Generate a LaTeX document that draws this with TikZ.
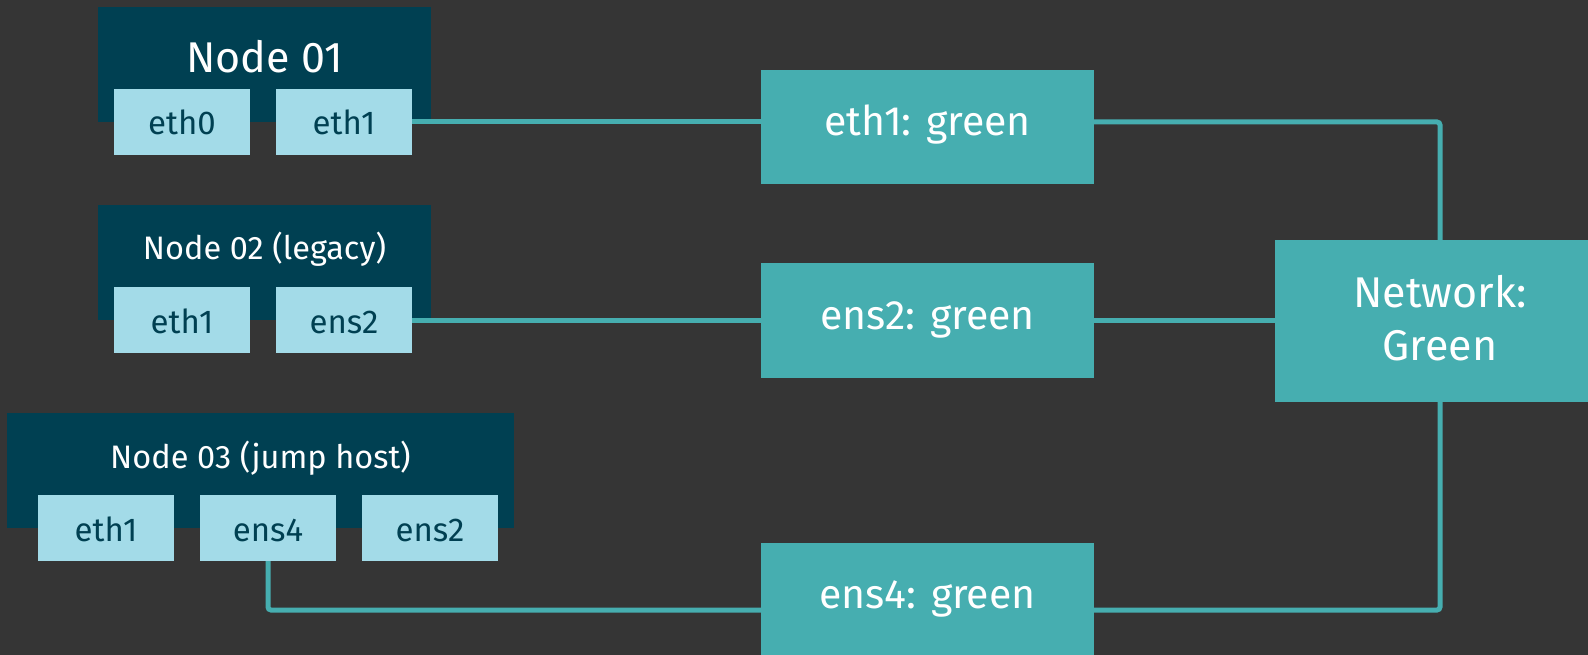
\documentclass[tikz,border=0pt]{standalone}
\usepackage{fontspec}
\setmainfont{Fira Sans}
\definecolor{bgc}{HTML}{353535}
\definecolor{hostc}{HTML}{004052}
\definecolor{portc}{HTML}{A3DBE8}
\definecolor{tealc}{HTML}{46AEB0}
\tikzset{
  hostbox/.style={fill=hostc, draw=none, inner sep=0pt, minimum width=333pt, minimum height=115pt},
  hostbig/.style={text=white, font=\fontsize{43}{50}\selectfont, anchor=base},
  hostsmall/.style={text=white, font=\fontsize{32.5}{38}\selectfont, anchor=base},
  portbox/.style={fill=portc, draw=none, inner sep=0pt, minimum width=136pt, minimum height=66pt,
    text=hostc, font=\fontsize{33}{38}\selectfont, text height=26pt, text depth=0pt},
  vlanbox/.style={fill=tealc, draw=none, inner sep=0pt, minimum width=333pt, minimum height=114pt,
    text=white, font=\fontsize{41}{46}\selectfont, text height=18pt, text depth=0pt},
  link/.style={draw=tealc, line width=5pt, rounded corners=3pt}
}
\begin{document}
\begin{tikzpicture}[x=1pt, y=-1pt]
  \fill[bgc] (0,0) rectangle (1588,655);
  \useasboundingbox (0,0) rectangle (1588,655);

  % host 1
  \node[hostbox] (h1) at (264.5,64.5) {};
  \node[hostbig] (h1t) at (264.5,73) {Node 01};
  \node[portbox] (h1eth0) at (182,122) {eth0};
  \node[portbox] (h1eth1) at (344,122) {eth1};

  % host 2
  \node[hostbox] (h2) at (264.5,262.5) {};
  \node[hostsmall] (h2t) at (264.5,260) {Node 02 (legacy)};
  \node[portbox] (h2eth1) at (182,320) {eth1};
  \node[portbox] (h2ens2) at (344,320) {ens2};

  % host 3
  \node[hostbox, minimum width=507pt] (h3) at (260.5,470.5) {};
  \node[hostsmall] (h3t) at (260.5,468) {Node 03 (jump host)};
  \node[portbox] (h3eth1) at (106,528) {eth1};
  \node[portbox] (h3ens4) at (268,528) {ens4};
  \node[portbox] (h3ens2) at (430,528) {ens2};

  % interface assignments
  \node[vlanbox] (g1) at (927.5,127) {eth1: green};
  \node[vlanbox] (g2) at (927.5,320.5) {ens2: green};
  \node[vlanbox] (g3) at (927.5,599.5) {ens4: green};

  % network
  \node[fill=tealc, draw=none, inner sep=0pt, minimum width=330pt, minimum height=162pt] (net) at (1440,321) {};
  \node[text=white, align=center, font=\fontsize{43}{53}\selectfont] (nett) at (1440,318) {Network:\\Green};

  \coordinate (bus) at (0,610);

  % links
  \draw[link] (h1eth1.east) -- (h1eth1.east -| g1.west);
  \draw[link] (g1.east |- h1eth1.east) -| (net.north);
  \draw[link] (h2ens2.east) -- (h2ens2.east -| g2.west);
  \draw[link] (g2.east |- h2ens2.east) -- (net.west |- h2ens2.east);
  \draw[link] (h3ens4.south) |- (g3.west |- bus);
  \draw[link] (g3.east |- bus) -| (net.south);
\end{tikzpicture}
\end{document}
